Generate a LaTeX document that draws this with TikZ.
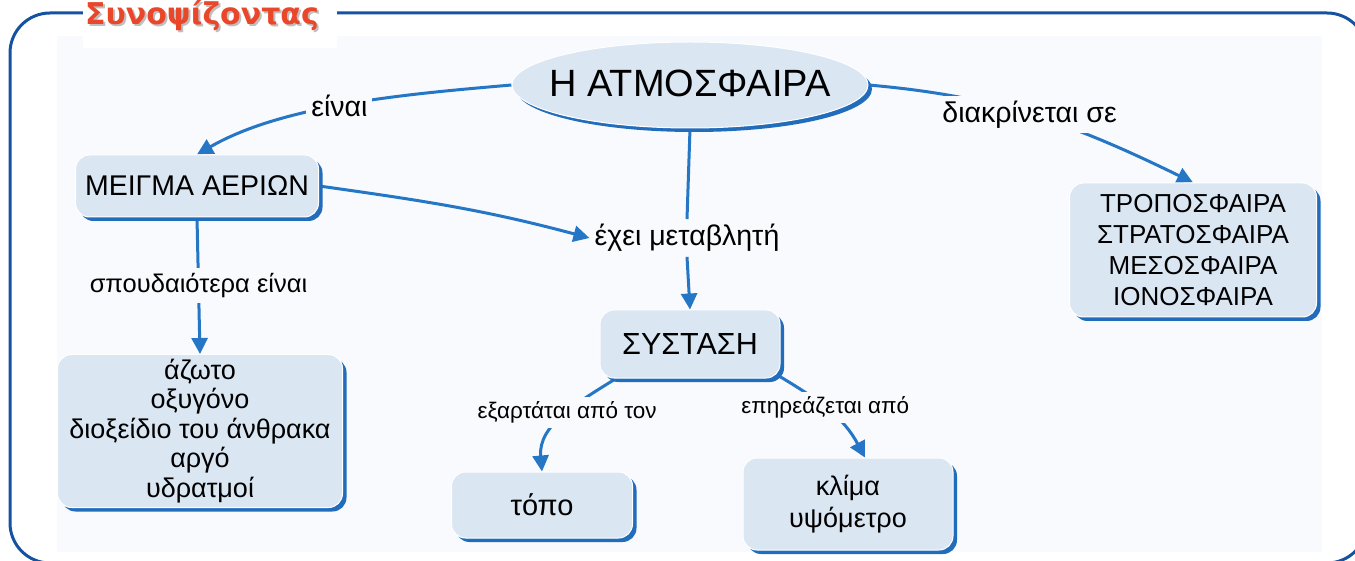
\documentclass[tikz,border=0pt]{standalone}
\usepackage{fontspec}
\setmainfont{Liberation Sans}
\newfontfamily\titlefont{DejaVu Sans}
\usetikzlibrary{arrows.meta, shapes.geometric, shadows, backgrounds, calc}

\definecolor{frameblue}{RGB}{22,82,162}
\definecolor{linkblue}{RGB}{38,118,198}
\definecolor{boxfill}{RGB}{219,230,243}
\definecolor{shadeblue}{RGB}{34,108,188}
\definecolor{titlered}{RGB}{234,70,42}
\definecolor{paper}{RGB}{249,250,253}

\tikzset{
	concept/.style={rectangle, rounded corners=14pt, fill=boxfill, draw=white, line width=1pt,
		align=center, inner sep=0pt,
		drop shadow={shadow xshift=4pt, shadow yshift=-4pt, fill=shadeblue, opacity=1}},
	hub/.style={concept, ellipse, inner xsep=-30pt},
	linkword/.style={fill=paper, inner sep=5pt, font=\fontsize{28.5}{28.5}\selectfont},
	smallword/.style={linkword, font=\fontsize{22.5}{22.5}\selectfont},
	link/.style={draw=linkblue, line width=3pt},
	arrowlink/.style={link, -{Triangle[length=16pt, width=16pt]}},
}

\begin{document}
\begin{tikzpicture}[x=1pt, y=1pt]

	\useasboundingbox (0,0) rectangle (1355,-561);

	% frame and title
	\draw[frameblue, line width=3pt, rounded corners=40pt] (10,-13) rectangle (1367,-563);
	\fill[white] (83,0) rectangle (337,-48);
	\node[anchor=base west, inner sep=0pt, text=black!25, font=\titlefont\bfseries\fontsize{30}{30}\selectfont] (titleshade) at (87,-27) {Συνοψίζοντας};
	\node[anchor=base west, inner sep=0pt, text=titlered, font=\titlefont\bfseries\fontsize{30}{30}\selectfont] (title) at (85,-25) {Συνοψίζοντας};

	% concepts
	\node[hub, minimum width=356pt, minimum height=86pt, font=\fontsize{38}{38}\selectfont] (atmo) at (690,-85) {\raisebox{4pt}{Η ΑΤΜΟΣΦΑΙΡΑ}};
	\node[concept, minimum width=243pt, minimum height=62pt, font=\fontsize{28.5}{28.5}\selectfont] (meigma) at (197,-186) {ΜΕΙΓΜΑ ΑΕΡΙΩΝ};
	\node[concept, minimum width=247pt, minimum height=134pt, font=\fontsize{26}{31}\selectfont] (layers) at (1193,-250) {ΤΡΟΠΟΣΦΑΙΡΑ\\ΣΤΡΑΤΟΣΦΑΙΡΑ\\ΜΕΣΟΣΦΑΙΡΑ\\ΙΟΝΟΣΦΑΙΡΑ};
	\node[concept, minimum width=285pt, minimum height=153pt, font=\fontsize{27}{29.5}\selectfont] (gases) at (200,-431) {άζωτο\\οξυγόνο\\διοξείδιο του άνθρακα\\αργό\\υδρατμοί};
	\node[concept, minimum width=180pt, minimum height=68pt, font=\fontsize{30.5}{30.5}\selectfont] (systasi) at (690,-344) {ΣΥΣΤΑΣΗ};
	\node[concept, minimum width=181pt, minimum height=66pt, font=\fontsize{29}{29}\selectfont] (topos) at (542,-505) {τόπο};
	\node[concept, minimum width=210pt, minimum height=92pt, font=\fontsize{27}{32}\selectfont] (klima) at (848,-504) {κλίμα\\υψόμετρο};

	\begin{pgfonlayer}{background}
		\fill[paper] (57,-36) rectangle (1322,-552);

		\node[linkword] (exei) at (687,-238) {έχει μεταβλητή};

		\draw[arrowlink] (atmo.west) to[out=185, in=30, looseness=0.8] node[linkword, pos=0.53] (eina) {είναι} (meigma.north);
		\draw[arrowlink] (atmo.east) to[out=-5, in=154] node[linkword, pos=0.48] (diakr) {διακρίνεται σε} (layers.north);
		\draw[link] (atmo.south) -- (exei.north);
		\draw[arrowlink] (meigma.east) to[out=-8, in=165] (exei.west);
		\draw[arrowlink] (exei.south) -- (systasi.north);
		\draw[arrowlink] (meigma.south) -- node[linkword, font=\fontsize{25.5}{25.5}\selectfont] (spoud) {σπουδαιότερα είναι} (gases.north);
		\draw[arrowlink] (systasi.205) to[out=212, in=95] node[smallword, pos=0.45] (exart) {εξαρτάται από τον} (topos.north);
		\draw[arrowlink] (systasi.340) to[out=-31, in=118] node[smallword, pos=0.45] (epir) {επηρεάζεται από} (klima.70);
	\end{pgfonlayer}

\end{tikzpicture}
\end{document}
